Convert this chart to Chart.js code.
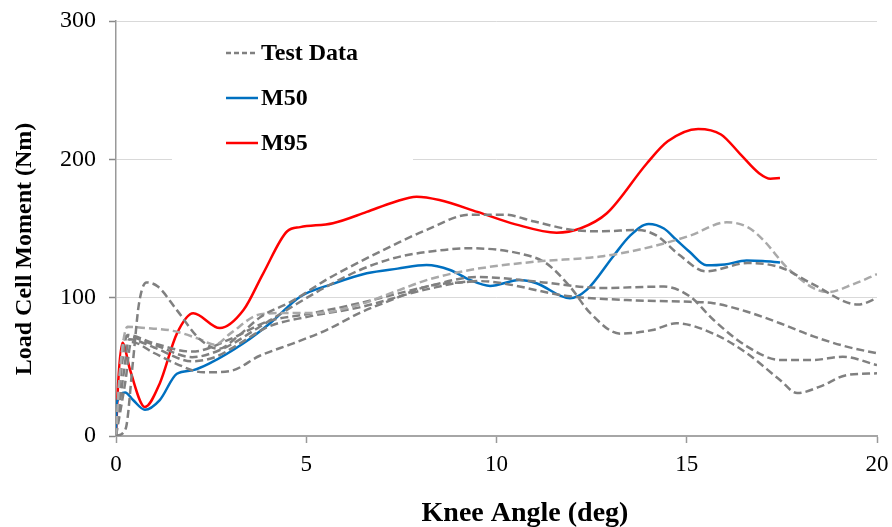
<!DOCTYPE html>
<html>
<head>
<meta charset="utf-8">
<script src="https://cdn.jsdelivr.net/npm/chart.js@4.4.0/dist/chart.umd.min.js"></script>
<style>
    html, body { margin: 0; padding: 0; background: #fff; }
</style>
</head>
<body>
<canvas id="myChart" width="892" height="527"></canvas>
<script>
// knee angle (deg) / load cell moment (Nm)
let test1Angle  = [0, 0.25, 0.45, 0.6, 0.8, 1.1, 1.6, 2.2, 2.7, 3.2, 3.8, 4.66, 5.53, 6.41, 7.29, 8.16, 9.3, 10.2, 11, 12, 12.8, 13.7, 14.2, 14.8, 15.5, 16.6, 17.45, 18.3, 19.5, 20];
let test1Moment = [0, 5, 55, 95, 111, 108, 91, 70, 63, 72, 86, 98, 113, 126, 138, 149, 160, 160, 155, 149, 148, 149, 145, 131, 119, 125, 122, 110, 95, 99.5];

let test2Angle  = [0, 0.1, 0.3, 0.8, 1.5, 2.2, 2.6, 3.0, 3.8, 4.6, 5.3, 6.4, 7.3, 8.2, 9.3, 11, 12.8, 14.1, 15.1, 16.05, 16.6, 17, 17.7, 18.7, 19.4, 20];
let test2Moment = [0, 45, 79, 78, 76, 70, 66, 74, 88, 89, 89, 95, 104, 113, 120, 126, 130, 137, 145, 154.5, 151, 142, 120, 104, 110, 117];

let test3Angle  = [0, 0.1, 0.25, 1, 2, 2.8, 3.78, 4.66, 5.53, 6.41, 7.29, 8.16, 9.3, 10.6, 11.3, 11.93, 12.46, 13.25, 14.1, 14.73, 15.7, 16.57, 17.45, 17.9, 18.5, 19.2, 20];
let test3Moment = [0, 45, 72, 66, 57, 63, 79, 94, 108, 120, 128.5, 133, 135.7, 132, 125, 108, 89, 74, 76.6, 81.5, 74, 60, 40.5, 31, 35.7, 44, 45.3];

let test4Angle  = [0, 0.15, 0.3, 1, 2, 3, 4, 5, 6.4, 8.16, 9.5, 11.05, 12.8, 14.4, 15.08, 15.7, 16.57, 17.45, 18.33, 19.1, 20];
let test4Moment = [0, 50, 73, 67, 61, 70, 83, 88, 96, 108, 115, 111.6, 107, 108, 101, 84, 65, 55, 55, 57.3, 51.3];

let test5Angle  = [0, 0.2, 0.35, 1, 2, 2.6, 3.2, 4, 5, 6.4, 8.16, 9.5, 11.93, 13.68, 15.08, 15.7, 16.57, 17.45, 18.33, 19.2, 20];
let test5Moment = [0, 45, 70, 64, 54, 57, 66, 79, 86, 93, 106, 112, 101, 98, 97, 96, 90, 81.5, 72, 64.6, 59.8];

let test6Angle  = [0, 0.25, 0.4, 1, 1.6, 2.3, 3, 3.78, 4.66, 5.53, 6.41, 7.3, 8.16, 9.5];
let test6Moment = [0, 40, 68, 60, 52, 46, 47, 58, 67, 76.6, 89, 99, 108, 112];

let m50Angle  = [0, 0.02, 0.24, 0.45, 0.76, 1.15, 1.6, 2.03, 2.47, 3.35, 4.05, 4.84, 5.7, 6.59, 7.4, 8.16, 8.78, 9.3, 9.83, 10.6, 11.05, 11.93, 12.37, 13.07, 13.5, 14, 14.4, 14.73, 15.08, 15.52, 16, 16.57, 17, 17.45];
let m50Moment = [0, 24, 31.5, 26, 19, 26, 45, 47.6, 52.6, 67, 81.5, 100.7, 110, 117.6, 121, 123.6, 120, 112.8, 108.5, 112.8, 110.4, 99.5, 105.6, 130, 144.5, 153.3, 150, 141.7, 133, 123.4, 124, 126.8, 126.5, 125.5];

let m95Angle  = [0, 0.06, 0.17, 0.37, 0.76, 1.15, 1.6, 2.03, 2.73, 3.35, 3.87, 4.5, 4.84, 5.7, 6.59, 7.3, 7.9, 8.5, 9.5, 10.5, 11.58, 12.2, 12.9, 13.95, 14.5, 15.3, 15.9, 16.4, 16.9, 17.2, 17.45];
let m95Moment = [0, 40, 67.5, 47.7, 21, 38, 74, 88.7, 78, 91, 117.6, 148, 151, 153.8, 162, 169, 173, 170.6, 162, 153, 147, 150, 161, 197, 213, 222, 218, 204, 190, 186, 186.5];

let legendLabels = ["Test Data", "M50", "M95"];
let xTitle = "Knee Angle (deg)";
let yTitle = "Load Cell Moment (Nm)";

function toPoints(xs, ys) {
    let pts = [];
    for (let i = 0; i < xs.length; i++) {
        pts.push({ x: xs[i], y: ys[i] });
    }
    return pts;
}

const serif = "'Liberation Serif', 'Times New Roman', serif";
const darkGrey = '#808080';
const lightGrey = '#a9a9a9';

function testSet(xs, ys, color) {
    return {
        label: 'Test Data',
        data: toPoints(xs, ys),
        borderColor: color,
        borderWidth: 2.5,
        borderDash: [8, 4],
        pointRadius: 0,
        fill: false,
        cubicInterpolationMode: 'monotone'
    };
}

// legend sits inside the plot on a white box, axis titles drawn by hand
const insideLegend = {
    id: 'insideLegend',
    beforeDatasetsDraw(chart) {
        const ctx = chart.ctx;
        ctx.save();
        ctx.fillStyle = '#ffffff';
        ctx.fillRect(172, 26, 241, 138);
        ctx.restore();
    },
    afterDatasetsDraw(chart) {
        const ctx = chart.ctx;
        const rows = [
            { y: 53, color: darkGrey, dash: [5, 3] },
            { y: 98, color: '#0070c0', dash: [] },
            { y: 143, color: '#ff0000', dash: [] }
        ];
        ctx.save();
        rows.forEach((r, i) => {
            ctx.beginPath();
            ctx.setLineDash(r.dash);
            ctx.strokeStyle = r.color;
            ctx.lineWidth = 2.5;
            ctx.moveTo(226, r.y);
            ctx.lineTo(258, r.y);
            ctx.stroke();
            ctx.setLineDash([]);
            ctx.fillStyle = '#000';
            ctx.font = "bold 24px " + serif;
            ctx.textBaseline = 'middle';
            ctx.textAlign = 'left';
            ctx.fillText(legendLabels[i], 261, r.y + 1);
        });

        ctx.font = "bold 28px " + serif;
        ctx.textAlign = 'center';
        ctx.fillText(xTitle, 525, 514);

        ctx.translate(25, 249);
        ctx.rotate(-Math.PI / 2);
        ctx.font = "bold 24px " + serif;
        ctx.fillText(yTitle, 0, 0);
        ctx.restore();
    }
};

var ctx = document.getElementById('myChart').getContext('2d');
var myChart = new Chart(ctx, {
    type: 'line',
    data: {
        datasets: [
            testSet(test1Angle, test1Moment, darkGrey),
            testSet(test2Angle, test2Moment, lightGrey),
            testSet(test3Angle, test3Moment, darkGrey),
            testSet(test4Angle, test4Moment, darkGrey),
            testSet(test5Angle, test5Moment, darkGrey),
            testSet(test6Angle, test6Moment, darkGrey),
            {
                label: 'M50',
                data: toPoints(m50Angle, m50Moment),
                borderColor: '#0070c0',
                borderWidth: 2.5,
                pointRadius: 0,
                cubicInterpolationMode: 'monotone'
            },
            {
                label: 'M95',
                data: toPoints(m95Angle, m95Moment),
                borderColor: '#ff0000',
                borderWidth: 2.5,
                pointRadius: 0,
                cubicInterpolationMode: 'monotone'
            }
        ]
    },
    options: {
        responsive: false,
        animation: false,
        layout: { padding: { top: 21, right: 15, left: 0, bottom: 0 } },
        plugins: {
            legend: { display: false },
            tooltip: { enabled: false }
        },
        scales: {
            x: {
                type: 'linear',
                min: 0,
                max: 20,
                afterFit(scale) {
                    scale.height = 91;
                    scale.paddingLeft = 0;
                    scale.paddingRight = 0;
                },
                ticks: {
                    stepSize: 5,
                    color: '#000',
                    padding: 8,
                    maxRotation: 0,
                    font: { family: serif, size: 23 }
                },
                grid: {
                    drawOnChartArea: false,
                    tickLength: 7,
                    tickColor: '#999',
                    tickWidth: 1.5
                },
                border: { color: '#a6a6a6', width: 2 }
            },
            y: {
                min: 0,
                max: 300,
                afterFit(scale) {
                    scale.width = 116;
                    scale.paddingTop = 0;
                    scale.paddingBottom = 0;
                },
                ticks: {
                    stepSize: 100,
                    color: '#000',
                    padding: 13,
                    font: { family: serif, size: 24 }
                },
                grid: {
                    color: '#d9d9d9',
                    lineWidth: 1,
                    tickLength: 7,
                    tickColor: '#888',
                    tickWidth: 1.5
                },
                border: { color: '#999', width: 1.5 }
            }
        }
    },
    plugins: [insideLegend]
});
</script>
</body>
</html>
